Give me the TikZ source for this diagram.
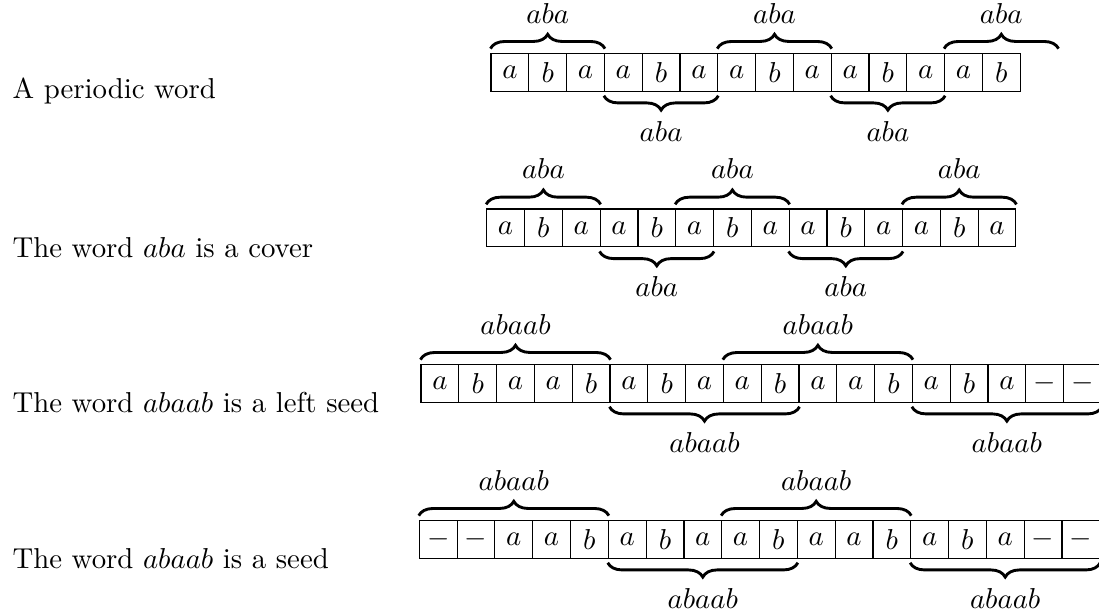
\documentclass[tikz,border=0pt]{standalone}
\usepackage{amsmath}
\usepackage{amssymb}
\usepackage{tikz}
\usetikzlibrary{calc}
\usetikzlibrary{decorations.pathreplacing}
\tikzstyle{cell} = [rectangle, draw=black, minimum size=0.461cm, inner sep=0pt]
\tikzstyle{over} = [decorate, decoration={brace, amplitude=0.175cm, raise=0.05cm}, line width=1pt]
\tikzstyle{under} = [decorate, decoration={brace, mirror, amplitude=0.175cm, raise=0.05cm}, line width=1pt]

\begin{document}
\begin{tikzpicture}[x=0.0122cm, y=-0.0122cm]
\useasboundingbox (0, 0) rectangle (1099, 613);
\node [anchor=base west, inner sep=0pt] (t1) at (12, 99) {A periodic word};
\node [anchor=base west, inner sep=0pt] (t2) at (12, 258) {The word $aba$ is a cover};
\node [anchor=base west, inner sep=0pt] (t3) at (12, 413) {The word $abaab$ is a left seed};
\node [anchor=base west, inner sep=0pt] (t4) at (12, 568) {The word $abaab$ is a seed};

\foreach \ch [count=\i from 0] in {a,b,a,a,b,a,a,b,a,a,b,a,a,b}
  \node [cell] (p\i) at ({509.9+37.8*\i}, 72.2) {$\ch$};
\coordinate (p14) at ($(p13.north east)+(37.8, 0)$);
\draw [over] (p0.north west) to node [midway, above=0.225cm] {$aba$} (p2.north east);
\draw [over] (p6.north west) to node [midway, above=0.225cm] {$aba$} (p8.north east);
\draw [over] (p12.north west) to node [midway, above=0.225cm] {$aba$} (p14);
\draw [under] (p3.south west) to node [midway, below=0.225cm] {$aba$} (p5.south east);
\draw [under] (p9.south west) to node [midway, below=0.225cm] {$aba$} (p11.south east);

\foreach \ch [count=\i from 0] in {a,b,a,a,b,a,b,a,a,b,a,a,b,a}
  \node [cell] (q\i) at ({505.6+37.8*\i}, 227.9) {$\ch$};
\draw [over] (q0.north west) to node [midway, above=0.225cm] {$aba$} (q2.north east);
\draw [over] (q5.north west) to node [midway, above=0.225cm] {$aba$} (q7.north east);
\draw [over] (q11.north west) to node [midway, above=0.225cm] {$aba$} (q13.north east);
\draw [under] (q3.south west) to node [midway, below=0.225cm] {$aba$} (q5.south east);
\draw [under] (q8.south west) to node [midway, below=0.225cm] {$aba$} (q10.south east);

\foreach \ch [count=\i from 0] in {a,b,a,a,b,a,b,a,a,b,a,a,b,a,b,a,-,-}
  \node [cell] (r\i) at ({439.9+37.8*\i}, 383.2) {$\ch$};
\draw [over] (r0.north west) to node [midway, above=0.225cm] {$abaab$} (r4.north east);
\draw [over] (r8.north west) to node [midway, above=0.225cm] {$abaab$} (r12.north east);
\draw [under] (r5.south west) to node [midway, below=0.225cm] {$abaab$} (r9.south east);
\draw [under] (r13.south west) to node [midway, below=0.225cm] {$abaab$} (r17.south east);

\foreach \ch [count=\i from 0] in {-,-,a,a,b,a,b,a,a,b,a,a,b,a,b,a,-,-}
  \node [cell] (s\i) at ({438.2+37.8*\i}, 539.2) {$\ch$};
\draw [over] (s0.north west) to node [midway, above=0.225cm] {$abaab$} (s4.north east);
\draw [over] (s8.north west) to node [midway, above=0.225cm] {$abaab$} (s12.north east);
\draw [under] (s5.south west) to node [midway, below=0.225cm] {$abaab$} (s9.south east);
\draw [under] (s13.south west) to node [midway, below=0.225cm] {$abaab$} (s17.south east);
\end{tikzpicture}
\end{document}
